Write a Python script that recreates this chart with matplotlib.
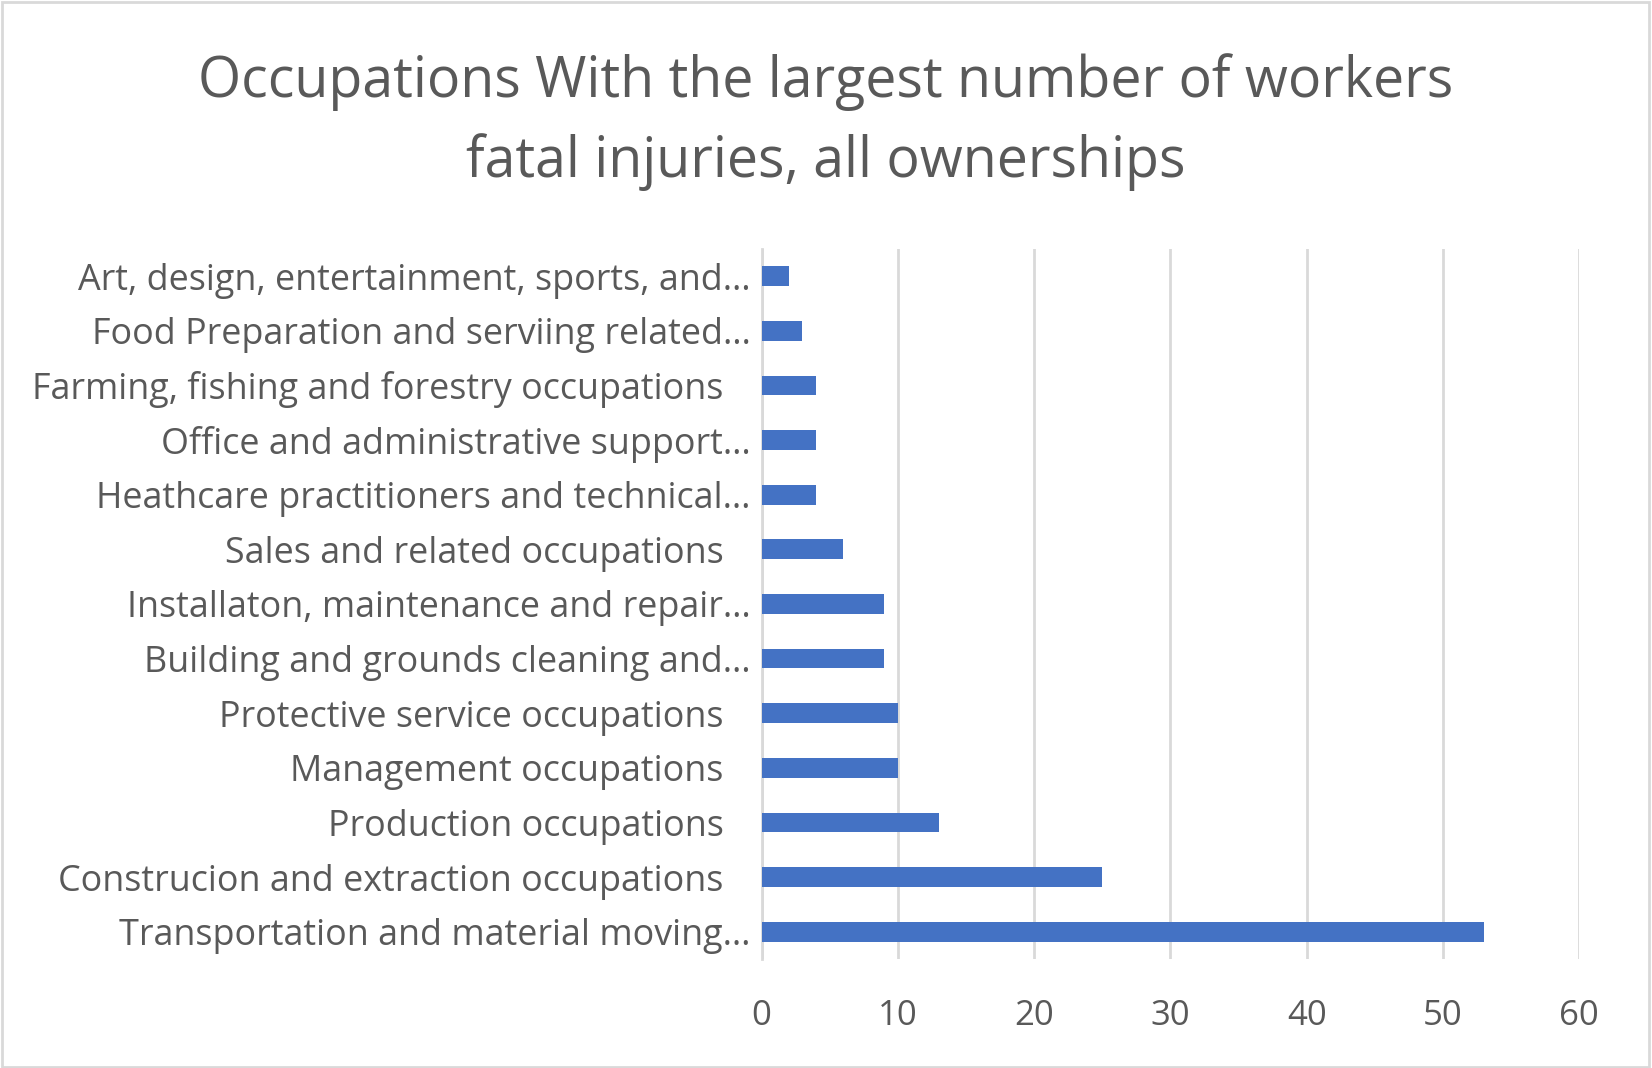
import matplotlib.pyplot as plt
import matplotlib.transforms as mtransforms
from matplotlib.patches import Rectangle

occupations = [
    "Transportation and material moving…",
    "Construcion and extraction occupations",
    "Production occupations",
    "Management occupations",
    "Protective service occupations",
    "Building and grounds cleaning and…",
    "Installaton, maintenance and repair…",
    "Sales and related occupations",
    "Heathcare practitioners and technical…",
    "Office and administrative support…",
    "Farming, fishing and forestry occupations",
    "Food Preparation and serviing related…",
    "Art, design, entertainment, sports, and…",
]
fatalities = [53, 25, 13, 10, 10, 9, 9, 6, 4, 4, 4, 3, 2]
x_ticks = [0, 10, 20, 30, 40, 50, 60]

plt.rcParams['font.family'] = ['Open Sans', 'DejaVu Sans']
text_color = '#595959'
grid_color = '#D9D9D9'

fig = plt.figure(figsize=(16.52, 10.68), dpi=100)
ax = fig.add_axes([0.461, 0.102, 0.495, 0.665])

ax.barh(range(len(occupations)), fatalities, height=0.36, color='#4472C4', zorder=3)
ax.set_xlim(0, 60)
ax.set_ylim(-0.5, len(occupations) - 0.5)
ax.set_xticks(x_ticks)
ax.set_yticks(range(len(occupations)))
ax.set_yticklabels(occupations)

ax.grid(axis='x', color=grid_color, linewidth=2, zorder=0)
for s in ['top', 'right', 'bottom']:
    ax.spines[s].set_visible(False)
ax.spines['left'].set_color(grid_color)
ax.spines['left'].set_linewidth(2)
ax.tick_params(axis='both', length=0, colors=text_color)
ax.tick_params(axis='y', labelsize=25.8, pad=8)
ax.tick_params(axis='x', labelsize=25, pad=29)

# labels without ellipsis end a bit further from the axis
shift = mtransforms.ScaledTranslation(-27 / 100, 0, fig.dpi_scale_trans)
for lbl in ax.get_yticklabels():
    if not lbl.get_text().endswith('…'):
        lbl.set_transform(lbl.get_transform() + shift)

fig.text(0.5, 0.886, "Occupations With the largest number of workers\nfatal injuries, all ownerships",
         ha='center', va='center', fontsize=40, color=text_color, linespacing=1.5)

fig.patches.append(Rectangle((0.001, 0.001), 0.997, 0.997, transform=fig.transFigure,
                             fill=False, edgecolor=grid_color, linewidth=2))

fig.savefig('out.png', dpi=100)
